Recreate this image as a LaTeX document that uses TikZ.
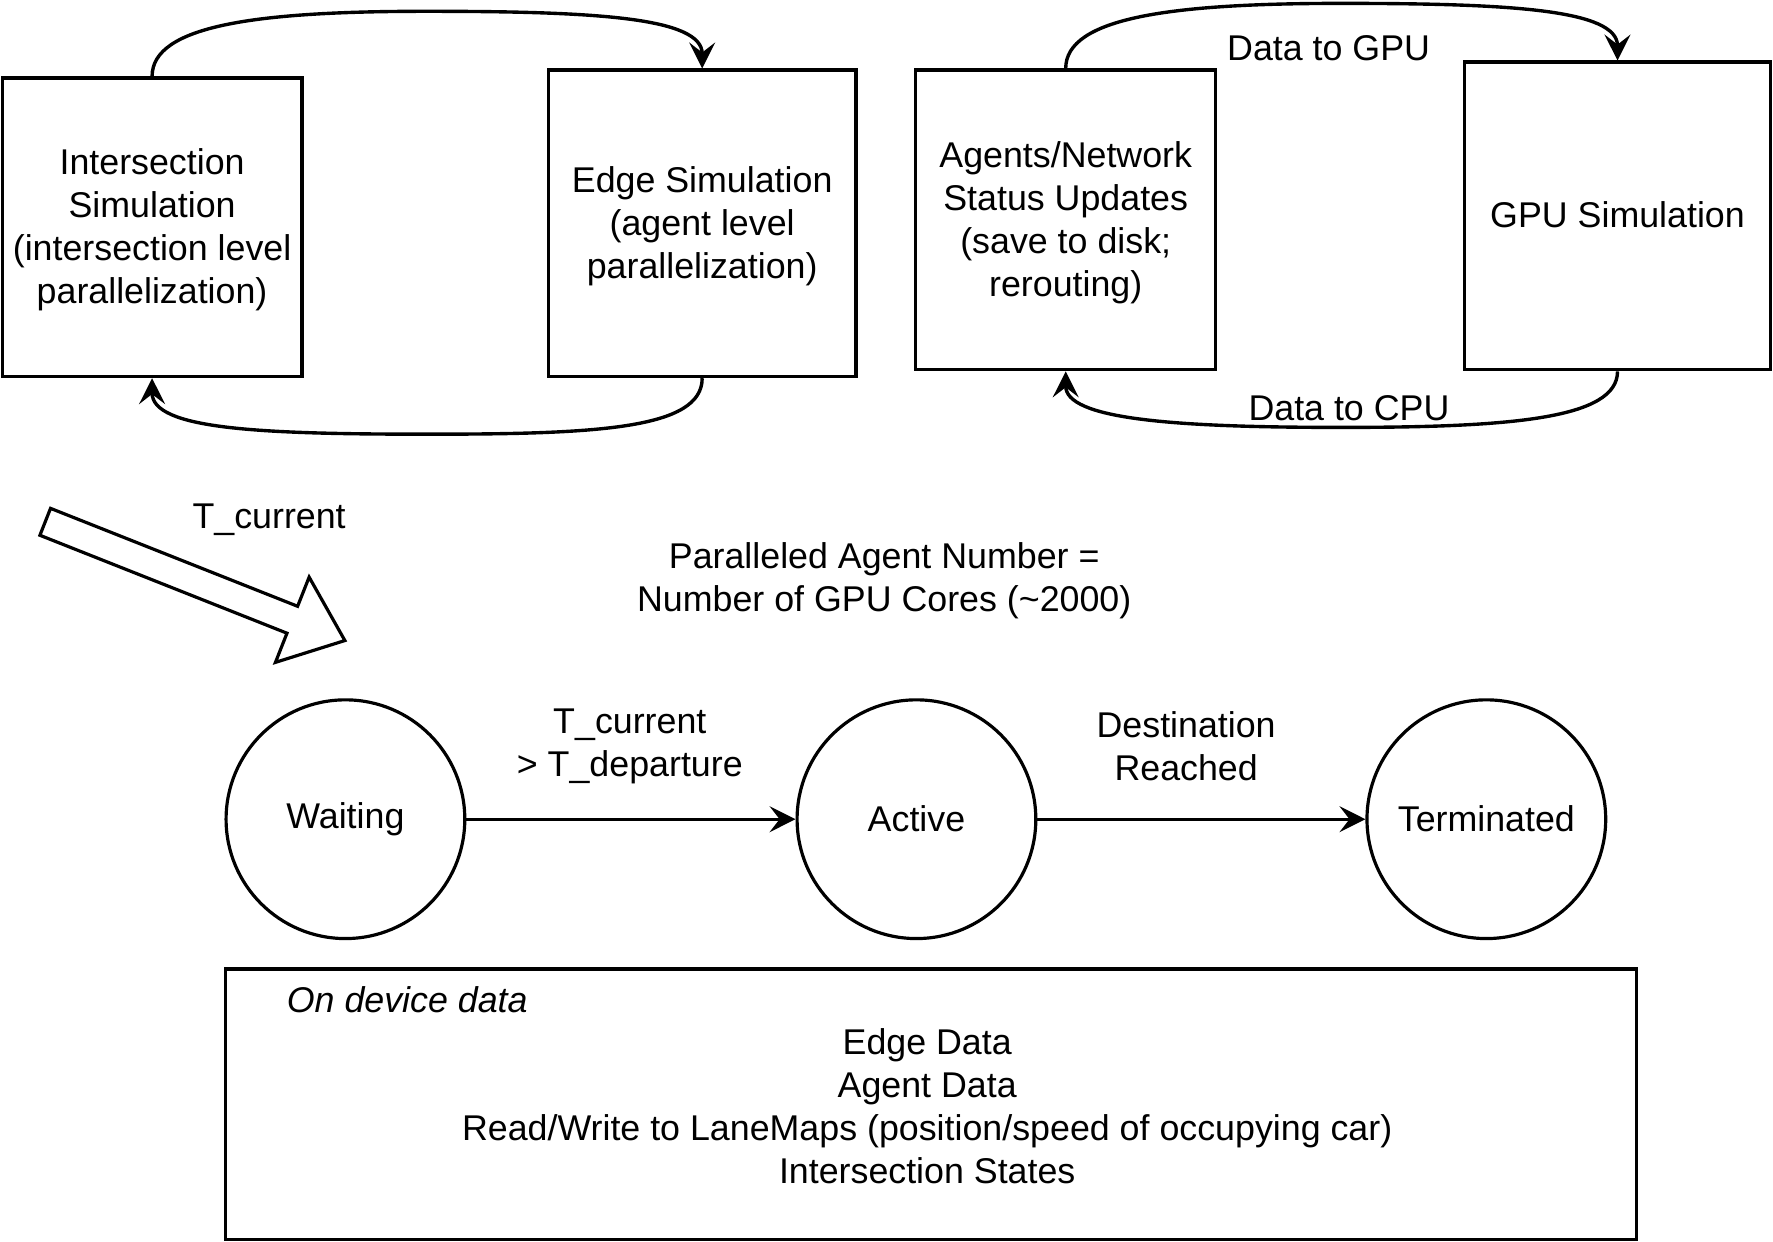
\documentclass[tikz,border=0pt]{standalone}
\usepackage{fontspec}
\setmainfont{Liberation Sans}
\usetikzlibrary{arrows.meta}

\begin{document}
\begin{tikzpicture}[x=0.01cm, y=-0.01cm,
    every node/.style={font=\fontsize{9}{10.8}\selectfont, align=center},
    simbox/.style={draw, line width=0.8pt, inner sep=0pt, text depth=0.6pt},
    state/.style={draw, circle, line width=0.8pt, minimum size=2.11cm, inner sep=0pt},
    flow/.style={line width=0.85pt, -{Stealth[length=6.5pt, width=6.5pt, inset=2.5pt]}}]
    \useasboundingbox (0,0) rectangle (1568,1098);

    \node (is) at (134.5,201) [simbox, minimum width=2.65cm, minimum height=2.64cm] {Intersection\\Simulation\\(intersection level\\parallelization)};
    \node (es) at (621,197.5) [simbox, minimum width=2.72cm, minimum height=2.71cm] {Edge Simulation\\(agent level\\parallelization)};
    \node (an) at (942.5,194.5) [simbox, minimum width=2.65cm, minimum height=2.65cm] {Agents/Network\\Status Updates\\(save to disk;\\rerouting)};
    \node (gs) at (1430.5,191) [simbox, minimum width=2.71cm, minimum height=2.72cm] {GPU Simulation};

    \draw[flow] (is.north) .. controls +(0,-45) and +(-150,0) .. (377,10) .. controls +(150,0) and +(0,-45) .. (es.north);
    \draw[flow] (es.south) .. controls +(0,45) and +(150,0) .. (378,384) .. controls +(-150,0) and +(0,45) .. (is.south);
    \draw[flow] (an.north) .. controls +(0,-45) and +(-150,0) .. (1186,3) .. controls +(150,0) and +(0,-45) .. (gs.north);
    \draw[flow] (gs.south) .. controls +(0,42) and +(150,0) .. (1186,378) .. controls +(-150,0) and +(0,42) .. (an.south);
    \node (tg) at (1175,43) {Data to GPU};
    \node (tc) at (1193,361) {Data to CPU};

    \draw[line width=0.8pt] (44.7,449.6) -- (263.2,536.2) -- (273.4,510.4) -- (305,566.5) -- (243.6,585.8) -- (253.8,560) -- (35.3,473.4) -- cycle;
    \node (tn) at (238,460) {T\_current};
    \node (pa) at (782,514) {Paralleled Agent Number =\\Number of GPU Cores (\textasciitilde2000)};

    \node (ws) at (305.5,724.5) [state] {Waiting};
    \node (ac) at (810.5,724.5) [state] {Active};
    \node (tm) at (1314.5,724.5) [state] {Terminated};
    \foreach \a/\b in {ws/ac, ac/tm} {
        \draw[flow] (\a) -- (\b);
    }
    \node (dep) at (557,660) {T\_current\\> T\_departure};
    \node (dst) at (1049,660) {Destination\\Reached};

    \node (db) at (823.5,976.5) [draw, line width=0.8pt, minimum width=12.47cm, minimum height=2.39cm] {};
    \node (od) at (253,884) [anchor=west, inner sep=0pt, font=\fontsize{9}{10.8}\selectfont\itshape] {On device data};
    \node (dl) at (820,978) {Edge Data\\Agent Data\\Read/Write to LaneMaps (position/speed of occupying car)\\Intersection States};
\end{tikzpicture}
\end{document}
